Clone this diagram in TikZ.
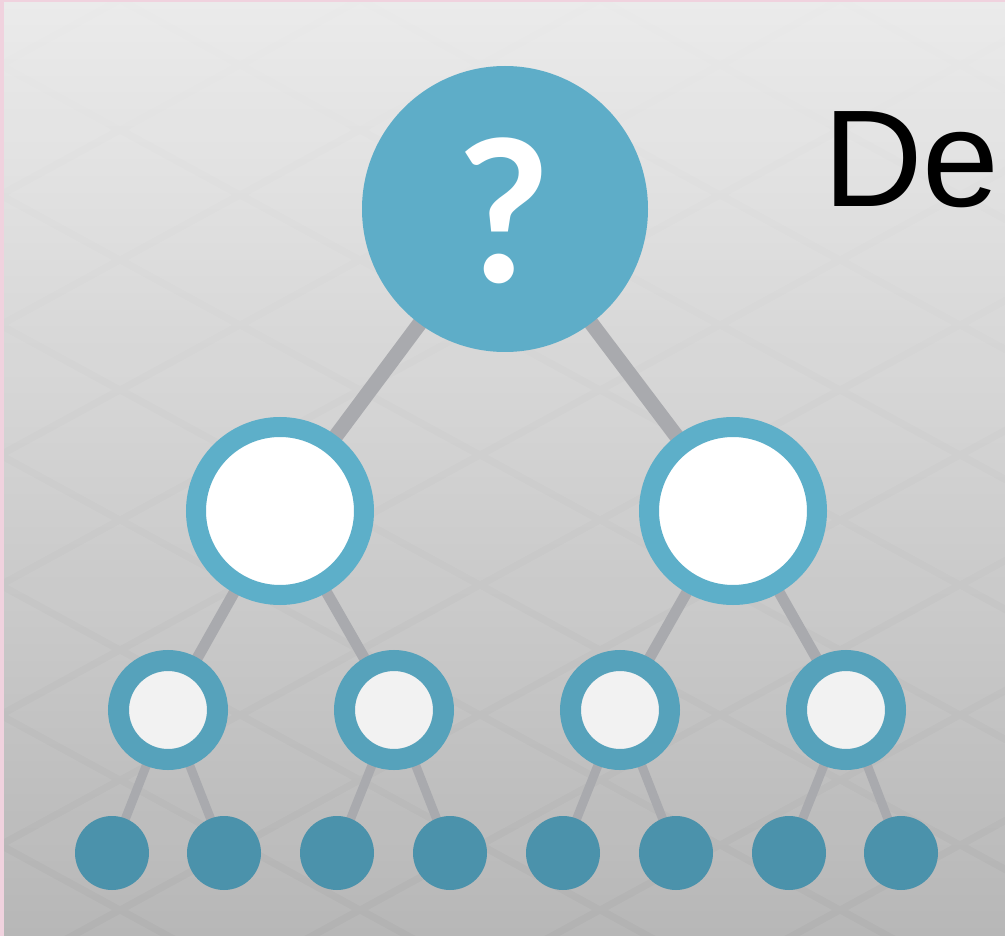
\documentclass[tikz,border=0pt]{standalone}
\usepackage{fontspec}
\setmainfont{Liberation Sans}
\newfontfamily\tfont{Liberation Sans}
\newfontfamily\qfont{Lato}
\definecolor{bgtop}{HTML}{EAEAEA}
\definecolor{bgmid}{HTML}{DDDDDD}
\definecolor{bgbot}{HTML}{B2B2B2}
\definecolor{rootcol}{HTML}{5EADC8}
\definecolor{ringa}{HTML}{5DAFC9}
\definecolor{ringb}{HTML}{56A2BB}
\definecolor{dotcol}{HTML}{4B92AB}
\definecolor{edgecol}{HTML}{A9AAAE}
\definecolor{pinkedge}{HTML}{F0D2DE}
\definecolor{innerb}{HTML}{F2F2F2}
\pgfdeclarelayer{back}
\pgfdeclarelayer{edges}
\pgfsetlayers{back,edges,main}
\tikzset{
  rootnode/.style={circle, fill=rootcol, minimum size=286, inner sep=0},
  ringtwo/.style={circle, draw=ringa, line width=20, fill=white, minimum size=168, inner sep=0},
  ringthree/.style={circle, draw=ringb, line width=21, fill=innerb, minimum size=99, inner sep=0},
  leaf/.style={circle, fill=dotcol, minimum size=74, inner sep=0},
  edgeA/.style={draw=edgecol, line width=15},
  edgeB/.style={draw=edgecol, line width=11},
  edgeC/.style={draw=edgecol, line width=9},
}
\begin{document}
\begin{tikzpicture}[x=1pt,y=-1pt]
\useasboundingbox (0,0) rectangle (1005,936);
\begin{pgfonlayer}{back}
\shade[top color=bgtop, middle color=bgmid, bottom color=bgbot] (0,0) rectangle (1005,936);
\foreach \j in {0,...,15}{
  \foreach \i in {-1,...,4}{
    \pgfmathsetmacro{\cx}{\i*240 + mod(\j,2)*120}
    \pgfmathsetmacro{\cy}{\j*65}
    \fill[white, opacity=0.07] (\cx-112,\cy) -- (\cx,\cy-61) -- (\cx+112,\cy) -- (\cx,\cy+61) -- cycle;
  }
}
\fill[pinkedge] (0,0) rectangle (4,936);
\fill[pinkedge] (0,0) rectangle (1005,2);
\end{pgfonlayer}

\node[rootnode] (r) at (505,209) {};
\node[font=\qfont\bfseries\fontsize{198}{198}\selectfont, text=white, anchor=base, inner sep=0] (q) at (504,283) {?};

\node[ringtwo] (a) at (280,511) {};
\node[ringtwo] (b) at (733,511) {};

\node[ringthree] (a1) at (168,710) {};
\node[ringthree] (a2) at (394,710) {};
\node[ringthree] (b1) at (620,710) {};
\node[ringthree] (b2) at (846,710) {};

\node[leaf] (l1) at (112,853) {};
\node[leaf] (l2) at (224,853) {};
\node[leaf] (l3) at (337,853) {};
\node[leaf] (l4) at (450,853) {};
\node[leaf] (l5) at (563,853) {};
\node[leaf] (l6) at (676,853) {};
\node[leaf] (l7) at (789,853) {};
\node[leaf] (l8) at (901,853) {};

\node[anchor=base west, inner sep=0, font=\tfont\fontsize{138}{140}\selectfont] (t) at (823,207) {De};

\begin{pgfonlayer}{edges}
\draw[edgeA] (r.center) -- (a.center);
\draw[edgeA] (r.center) -- (b.center);
\draw[edgeB] (a.center) -- (a1.center);
\draw[edgeB] (a.center) -- (a2.center);
\draw[edgeB] (b.center) -- (b1.center);
\draw[edgeB] (b.center) -- (b2.center);
\draw[edgeC] (a1.center) -- (l1.center);
\draw[edgeC] (a1.center) -- (l2.center);
\draw[edgeC] (a2.center) -- (l3.center);
\draw[edgeC] (a2.center) -- (l4.center);
\draw[edgeC] (b1.center) -- (l5.center);
\draw[edgeC] (b1.center) -- (l6.center);
\draw[edgeC] (b2.center) -- (l7.center);
\draw[edgeC] (b2.center) -- (l8.center);
\end{pgfonlayer}
\end{tikzpicture}
\end{document}
